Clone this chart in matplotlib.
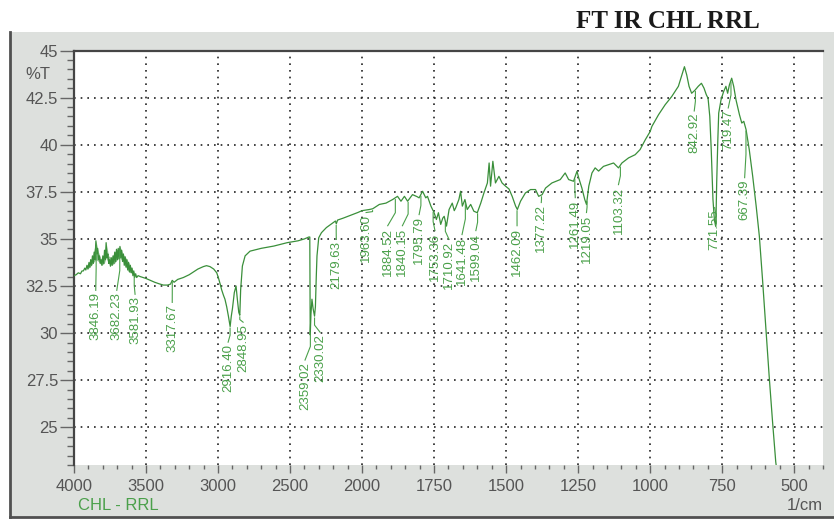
import matplotlib
matplotlib.use("Agg")
import matplotlib.pyplot as plt
import numpy as np
from matplotlib.patches import Rectangle
from matplotlib.lines import Line2D
from matplotlib.ticker import FixedLocator, FixedFormatter
import matplotlib.transforms as mtransforms

# spectrum (1/cm, %T)
wavenumber = [4000, 3985, 3970, 3955, 3945, 3935, 3925, 3918, 3910, 3903, 3896, 3890, 3884, 3878,
              3872, 3866, 3860, 3854, 3848, 3842, 3836, 3830, 3824, 3818, 3812, 3806, 3800, 3794,
              3788, 3782, 3777, 3771, 3765, 3759, 3753, 3747, 3741, 3735, 3729, 3723, 3717, 3711,
              3705, 3699, 3693, 3687, 3681, 3675, 3669, 3663, 3657, 3651, 3645, 3639, 3633, 3627,
              3621, 3615, 3609, 3603, 3597, 3591, 3585, 3579, 3572, 3565, 3555, 3540, 3520, 3500,
              3470, 3440, 3410, 3380, 3350, 3330, 3318, 3305, 3280, 3241, 3200, 3172, 3140, 3102,
              3080, 3056, 3030, 3009, 2998, 2985, 2975, 2962, 2952, 2940, 2928, 2916, 2908, 2900,
              2887, 2875, 2866, 2856, 2849, 2843, 2831, 2812, 2778, 2700, 2613, 2520, 2444, 2400,
              2370, 2363, 2360, 2355, 2348, 2340, 2330, 2324, 2318, 2313, 2301, 2282, 2248, 2201,
              2185, 2179, 2170, 2132, 2063, 2030, 2000, 1975, 1963, 1940, 1917, 1894, 1877, 1865,
              1853, 1842, 1825, 1810, 1802, 1790, 1779, 1773, 1761, 1750, 1742, 1735, 1727, 1720,
              1715, 1707, 1698, 1687, 1680, 1675, 1664, 1658, 1652, 1643, 1635, 1623, 1612, 1600,
              1588, 1577, 1565, 1559, 1554, 1546, 1537, 1525, 1514, 1502, 1490, 1479, 1467, 1461,
              1450, 1433, 1415, 1398, 1387, 1375, 1363, 1341, 1312, 1295, 1283, 1266, 1254, 1248,
              1237, 1227, 1221, 1213, 1202, 1191, 1179, 1162, 1145, 1127, 1110, 1098, 1075, 1052,
              1035, 1017, 1000, 994, 971, 948, 925, 902, 890, 881, 873, 865, 856, 844,
              833, 822, 813, 805, 799, 793, 788, 782, 777, 772, 769, 765, 762, 754,
              745, 737, 731, 725, 717, 710, 702, 690, 682, 675, 667, 656, 644, 632,
              621, 610, 598, 587, 575, 564, 560]
transmittance = [33.05, 33.1, 33.2, 33.15, 33.3, 33.3, 33.45, 33.35, 33.6, 33.4, 33.75, 33.5, 33.9, 33.6,
                 34.1, 33.7, 34.3, 33.9, 34.9, 34.2, 34.5, 33.9, 34.1, 33.7, 33.9, 33.6, 34.1, 33.7,
                 34.4, 33.9, 34.8, 34.0, 34.2, 33.7, 33.9, 33.55, 34.0, 33.6, 34.1, 33.7, 34.3, 33.8,
                 34.45, 33.9, 34.5, 33.95, 34.6, 34.0, 34.4, 33.8, 34.2, 33.6, 34.05, 33.5, 33.9, 33.35,
                 33.75, 33.25, 33.6, 33.2, 33.45, 33.05, 33.3, 32.95, 33.15, 32.95, 33.05, 33.0, 32.95, 32.9,
                 32.8, 32.7, 32.62, 32.55, 32.55, 32.6, 32.8, 32.7, 32.85, 32.95, 33.1, 33.24, 33.4, 33.53,
                 33.58, 33.53, 33.4, 33.2, 32.95, 32.6, 32.3, 32.0, 31.8, 31.4, 30.9, 30.35, 30.9, 31.3,
                 32.15, 32.5, 31.8, 31.1, 30.95, 32.3, 33.56, 34.1, 34.35, 34.5, 34.62, 34.8, 34.9, 35.0,
                 35.1, 35.1, 29.9, 31.0, 31.8, 31.3, 30.9, 31.4, 33.0, 34.1, 35.06, 35.33, 35.6, 35.86,
                 35.95, 35.8, 36.0, 36.1, 36.3, 36.4, 36.5, 36.56, 36.6, 36.83, 36.9, 37.09, 37.26, 37.0,
                 37.26, 37.0, 37.35, 37.25, 37.18, 37.53, 37.18, 37.26, 36.74, 36.39, 36.03, 36.39, 35.77, 36.1,
                 36.2, 35.68, 36.56, 36.9, 36.5, 36.65, 37.09, 37.53, 36.74, 37.09, 36.56, 36.83, 36.47, 36.39,
                 36.9, 37.44, 37.97, 39.03, 37.8, 39.12, 37.97, 38.32, 37.97, 37.8, 37.65, 37.26, 36.74, 36.56,
                 37.0, 37.44, 37.62, 37.62, 37.26, 37.35, 37.7, 37.97, 38.15, 38.5, 38.15, 38.06, 38.59, 38.24,
                 37.7, 37.09, 36.83, 37.8, 38.5, 38.77, 38.6, 38.85, 38.94, 39.03, 38.77, 39.03, 39.3, 39.47,
                 39.74, 40.26, 40.7, 40.97, 41.59, 42.12, 42.56, 43.1, 43.7, 44.14, 43.7, 43.1, 42.73, 42.9,
                 43.1, 43.26, 43.0, 42.65, 42.47, 41.5, 39.74, 37.1, 36.0, 35.65, 38.0, 40.3, 41.68, 42.38,
                 42.82, 43.1, 42.73, 43.17, 43.53, 43.1, 42.38, 41.59, 41.15, 41.24, 40.8, 39.74, 38.32, 36.74,
                 35.15, 32.86, 30.21, 27.74, 25.27, 23.16, 22.7]

# the dense noise band at the high-wavenumber end (lower/upper edges)
noise_wn = [3910, 3890, 3870, 3848, 3830, 3810, 3790, 3777, 3760, 3740, 3720, 3700, 3681, 3660,
            3640, 3620, 3600, 3580]
noise_upper = [33.6, 33.75, 34.1, 34.9, 34.3, 33.9, 34.2, 34.8, 34.1, 34.0, 34.3, 34.45, 34.6, 34.2,
               34.0, 33.75, 33.45, 33.2]
noise_lower = [33.4, 33.5, 33.7, 33.9, 33.8, 33.6, 33.7, 34.0, 33.7, 33.6, 33.7, 33.9, 34.0, 33.8,
               33.5, 33.25, 33.2, 32.95]

peak_labels = ['3846.19', '3682.23', '3581.93', '3317.67', '2916.40', '2848.95', '2359.02', '2330.02',
               '2179.63', '1963.60', '1884.52', '1840.15', '1795.79', '1753.36', '1710.92', '1641.48',
               '1599.04', '1462.09', '1377.22', '1261.49', '1219.05', '1103.32', '842.92', '771.55',
               '719.47', '667.39']
# where each label's text sits (1/cm) and where its top end is (%T)
label_x = [3849, 3703, 3576, 3318, 2930, 2826, 2396, 2292,
           2179, 1986, 1911, 1860, 1802, 1747, 1698, 1653,
           1605, 1462, 1378, 1260, 1221, 1110, 847, 776,
           729, 672]
label_top = [32.17, 32.17, 31.96, 31.53, 29.42, 30.48, 28.47, 29.95,
             34.87, 36.3, 35.6, 35.6, 36.19, 35.34, 34.87, 35.13,
             35.34, 35.6, 36.83, 37.09, 36.3, 37.78, 41.69, 36.56,
             41.85, 38.15]

x_major = [4000, 3500, 3000, 2500, 2000, 1750, 1500, 1250, 1000, 750, 500]
y_major = [45, 42.5, 40, 37.5, 35, 32.5, 30, 27.5, 25]
y_labels = ['45', '42.5', '40', '37.5', '35', '32.5', '30', '27.5', '25']

GREEN = '#3a8f3a'
LABEL_GREEN = '#4aa04a'
GREY = '#555555'
FONT = 'Liberation Sans'


# split scale: 500 per division above 2000, 250 per division below
def forward(x):
    x = np.asarray(x, dtype=float)
    return np.where(x >= 2000, (x - 2000) / 500.0, (x - 2000) / 250.0)


def inverse(g):
    g = np.asarray(g, dtype=float)
    return np.where(g >= 0, 2000 + 500.0 * g, 2000 + 250.0 * g)


W, H = 834, 520
fig = plt.figure(figsize=(W / 100, H / 100), dpi=100)
fig.patch.set_facecolor('white')

# grey instrument panel behind the plot
fig.patches.append(Rectangle((10 / W, 3 / H), 824 / W, 485 / H, transform=fig.transFigure,
                             facecolor='#dde0dd', edgecolor='none', zorder=-2))
fig.lines.append(Line2D([10 / W, 10 / W], [3 / H, 488 / H], transform=fig.transFigure,
                        color='#505050', lw=2, zorder=-1))
fig.lines.append(Line2D([10 / W, 1.0], [3 / H, 3 / H], transform=fig.transFigure,
                        color='#505050', lw=2, zorder=-1))

ax = fig.add_axes([74 / W, 55 / H, 749 / W, 414.5 / H])
ax.set_zorder(2)
ax.set_facecolor('white')
ax.set_xscale('function', functions=(forward, inverse))
ax.fill_between(noise_wn, noise_lower, noise_upper, color=GREEN, alpha=0.55, lw=0, zorder=2)
ax.plot(wavenumber, transmittance, color=GREEN, lw=0.9, zorder=3)
ax.set_xlim(4000, 400)
ax.set_ylim(23.0, 45.0)

ax.xaxis.set_major_locator(FixedLocator(x_major))
ax.xaxis.set_major_formatter(FixedFormatter([str(v) for v in x_major]))
minor_x = [v for v in list(np.arange(4000, 2000, -100)) + list(np.arange(2000, 399, -50))
           if v not in x_major]
ax.xaxis.set_minor_locator(FixedLocator(minor_x))
ax.yaxis.set_major_locator(FixedLocator(y_major))
ax.yaxis.set_major_formatter(FixedFormatter(y_labels))
ax.yaxis.set_minor_locator(FixedLocator([v for v in np.arange(23.0, 45.01, 0.5) if v not in y_major]))

ax.tick_params(axis='x', which='major', direction='out', length=6, width=1, color='#666666',
               pad=4, labelsize=12, labelcolor=GREY)
ax.tick_params(axis='x', which='minor', direction='out', length=3, width=1, color='#666666')
ax.tick_params(axis='y', which='major', direction='out', length=10, width=1, color='#666666',
               pad=1.5, labelsize=12, labelcolor=GREY)
ax.tick_params(axis='y', which='minor', direction='out', length=5, width=1, color='#666666')
for lab in ax.get_xticklabels() + ax.get_yticklabels():
    lab.set_family(FONT)

ax.grid(True, which='major', color='#222222', linestyle=(0, (1, 3)), lw=1.2)
for side in ['bottom', 'right']:
    ax.spines[side].set_visible(False)
for side in ['left', 'top']:
    ax.spines[side].set_color('#454545')
    ax.spines[side].set_linewidth(1.6)

# peak labels with their connector lines
wn_rev = np.array(wavenumber[::-1], dtype=float)
t_rev = np.array(transmittance[::-1], dtype=float)
for text, tx, ty in zip(peak_labels, label_x, label_top):
    pos = float(text)
    cy = np.interp(pos, wn_rev, t_rev)
    ax.plot([pos, pos, tx], [cy - 0.1, (cy + ty) / 2, ty + 0.1], color=LABEL_GREEN, lw=0.8, zorder=4)
    ax.text(tx, ty, text, rotation=90, ha='center', va='top', fontsize=9.5,
            color=LABEL_GREEN, family=FONT, zorder=5)

trans = mtransforms.blended_transform_factory(fig.transFigure, ax.transData)
ax.text(50 / W, 43.75, '%T', transform=trans, ha='right', va='center', fontsize=12,
        color=GREY, family=FONT)
fig.text(78 / W, 1 - 505 / H, 'CHL - RRL', ha='left', va='center', fontsize=12,
         color=LABEL_GREEN, family=FONT)
fig.text(823 / W, 1 - 505 / H, '1/cm', ha='right', va='center', fontsize=12,
         color=GREY, family=FONT)
fig.text(668 / W, 1 - 21 / H, 'FT IR CHL RRL', ha='center', va='center', fontsize=18,
         fontweight='bold', color='#1a1a1a', family='Liberation Serif')

fig.savefig('out.png', dpi=100)
